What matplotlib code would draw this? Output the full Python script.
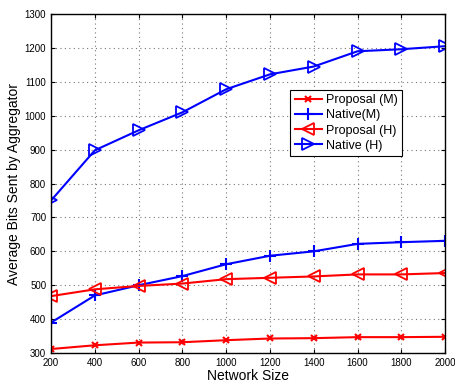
import matplotlib
matplotlib.use('Agg')
import matplotlib.pyplot as plt
import numpy as np

plt.rcParams['font.family'] = ['Liberation Sans', 'DejaVu Sans']

# network sizes and average bits per aggregator
sizes = [200, 400, 600, 800, 1000, 1200, 1400, 1600, 1800, 2000]
proposal_m = [312, 323, 331, 332, 338, 343, 344, 347, 347, 348]
native_m = [390, 470, 500, 527, 562, 587, 600, 622, 627, 631]
proposal_h = [468, 488, 498, 505, 518, 522, 526, 532, 532, 536]
native_h = [750, 898, 957, 1010, 1078, 1122, 1145, 1190, 1196, 1205]

fig = plt.figure(figsize=(4.56, 3.88), dpi=100)
ax = fig.add_axes([0.112, 0.090, 0.864, 0.874])

ax.plot(sizes, proposal_m, color='red', marker='x', ms=5, mew=1.5, lw=1.5,
        label='Proposal (M)')
ax.plot(sizes, native_m, color='blue', marker='+', ms=8, mew=1.5, lw=1.5,
        label='Native(M)')
ax.plot(sizes, proposal_h, color='red', marker='<', ms=9, mew=1.3, lw=1.5,
        mfc='none', label='Proposal (H)')
ax.plot(sizes, native_h, color='blue', marker='>', ms=9, mew=1.3, lw=1.5,
        mfc='none', label='Native (H)')

ax.set_xlim(200, 2000)
ax.set_ylim(300, 1300)
ax.set_xticks(sizes)
ax.set_yticks(np.arange(300, 1301, 100))
ax.tick_params(direction='in', labelsize=7, top=True, right=True, length=3)
ax.grid(True, linestyle=(0, (1, 3)), color='#777777', linewidth=0.8)
for s in ax.spines.values():
    s.set_linewidth(1.0)
ax.set_xlabel('Network Size', fontsize=10, labelpad=1)
ax.set_ylabel('Average Bits Sent by Aggregator', fontsize=10, labelpad=3)

leg = ax.legend(loc='upper left', bbox_to_anchor=(0.607, 0.776), fontsize=9,
                fancybox=False, framealpha=1, edgecolor='black',
                handlelength=2.2, handletextpad=0.3, borderpad=0.35,
                labelspacing=0.25, borderaxespad=0)
leg.get_frame().set_linewidth(0.8)

fig.savefig('out.png', dpi=100)
